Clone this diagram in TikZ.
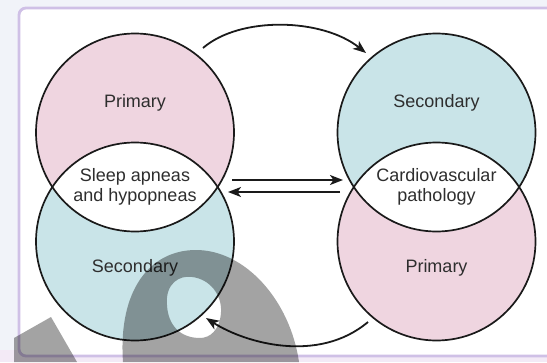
\documentclass[tikz,border=0pt]{standalone}
\usepackage{fontspec}
\setmainfont{Liberation Sans}
\usetikzlibrary{arrows.meta}
\definecolor{pinkfill}{HTML}{EFD5E0}
\definecolor{cyanfill}{HTML}{C9E4E8}
\definecolor{framecol}{HTML}{CFC0E6}
\definecolor{outsidecol}{HTML}{F1F3F9}
\definecolor{bottomcol}{HTML}{F3EAF6}
\definecolor{txtcol}{HTML}{2E2E2E}
\definecolor{linecol}{HTML}{1A1A1A}
\begin{document}
\begin{tikzpicture}[x=1pt,y=-1pt,
  lbl/.style={text=txtcol, font=\fontsize{18}{20}\selectfont, align=center, inner sep=0pt},
  ring/.style={circle, minimum size=198pt, inner sep=0pt, draw=none},
  outline/.style={draw=linecol, line width=1.7pt},
  arr/.style={draw=linecol, line width=1.8pt, -{Stealth[length=13pt,width=10pt,inset=3.5pt]}},
  wm/.style={fill=black, opacity=0.36, even odd rule}]
\useasboundingbox (0,0) rectangle (547,362);
% background and frame
\fill[outsidecol] (0,0) rectangle (547,362);
\fill[bottomcol] (0,350) rectangle (547,362);
\draw[framecol, line width=2.8pt, fill=white, rounded corners=7pt] (19,8) rectangle (570,356);
% circles
\node[ring, fill=pinkfill] (tl) at (135,132.5) {};
\node[ring, fill=cyanfill] (bl) at (135,241.5) {};
\node[ring, fill=cyanfill] (tr) at (436.5,132.5) {};
\node[ring, fill=pinkfill] (br) at (436.5,241.5) {};
\begin{scope}
  \clip (tl.center) circle (99pt);
  \fill[white] (bl.center) circle (99pt);
\end{scope}
\begin{scope}
  \clip (tr.center) circle (99pt);
  \fill[white] (br.center) circle (99pt);
\end{scope}
\draw[outline] (tl.center) circle (99pt);
\draw[outline] (bl.center) circle (99pt);
\draw[outline] (tr.center) circle (99pt);
\draw[outline] (br.center) circle (99pt);
% labels
\node[lbl] (tltext) at (135,103) {Primary};
\node[lbl] (bltext) at (135,268) {Secondary};
\node[lbl] (sleep) at (135,187) {Sleep apneas\\and hypopneas};
\node[lbl] (trtext) at (436.5,103) {Secondary};
\node[lbl] (brtext) at (436.5,268) {Primary};
\node[lbl] (cardio) at (436.5,187) {Cardiovascular\\pathology};
% arrows
\coordinate (lx) at (218,187);
\coordinate (rx) at (353,187);
\draw[arr] ([shift={(14,-7)}]lx) -- ([shift={(-10,-7)}]rx);
\draw[arr] ([shift={(-13,5)}]rx) -- ([shift={(10,5)}]lx);
\coordinate (ta) at (203,48);
\coordinate (tb) at (366,53);
\draw[arr] (ta) .. controls (240,16) and (322,18) .. (tb);
\coordinate (ba) at (368,322);
\coordinate (bb) at (206,318);
\draw[arr] (ba) .. controls (318,364) and (245,343) .. (bb);
% watermark overlay
\fill[wm] (14,338) -- (51,317) -- (77,362) -- (14,362) -- cycle;
\fill[wm] (123,362) .. controls (118,290) and (150,250) .. (196,250)
  .. controls (245,250) and (290,300) .. (299,362) -- cycle
  (167,305) .. controls (165,283) and (180,275) .. (192,277)
  .. controls (210,279) and (222,295) .. (221,312)
  .. controls (220,330) and (210,338) .. (200,338)
  .. controls (180,338) and (168,325) .. (167,305) -- cycle;
\end{tikzpicture}
\end{document}
